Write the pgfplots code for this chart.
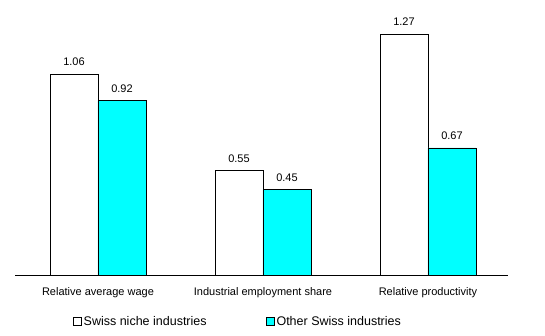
\documentclass[border=0pt]{standalone}
\usepackage{fontspec}
\setmainfont{Liberation Sans}
\usepackage{pgfplots}
\pgfplotsset{compat=1.18}
\definecolor{barcyan}{HTML}{00FFFF}
\begin{document}
\begin{tikzpicture}
\useasboundingbox (0,0) rectangle (545pt,336pt);
\begin{axis}[
  at={(15pt,61pt)}, anchor=south west,
  scale only axis,
  width=493pt, height=265.4pt,
  xmin=-0.503, xmax=2.485,
  ymin=0, ymax=1.4,
  hide y axis,
  axis x line*=bottom,
  x axis line style={-, line width=0.9pt},
  xtick={0,1,2},
  xticklabels={Relative average wage, Industrial employment share, Relative productivity},
  major tick length=0pt,
  xticklabel style={font=\fontsize{11}{13}\selectfont, yshift=-8.5pt},
  ybar, bar width=48pt,
  nodes near coords,
  nodes near coords style={font=\fontsize{11}{13}\selectfont, yshift=4.5pt, /pgf/number format/fixed, /pgf/number format/precision=2, /pgf/number format/fixed zerofill, /pgf/number format/assume math mode=true},
  legend columns=2,
  legend style={draw=none, fill=none, at={(0.452,-0.1755)}, anchor=center,
    font=\fontsize{12.5}{14}\selectfont,
    /tikz/every even column/.append style={column sep=57pt},
    nodes={inner sep=2pt}},
  legend image code/.code={\draw[#1, line width=0.9pt] (0pt,-4pt) rectangle (8pt,4pt);},
]
\addplot[draw=black, fill=white, line width=0.9pt, bar shift=-24pt] coordinates {(0,1.06) (1,0.55) (2,1.27)};
\addplot[draw=black, fill=barcyan, line width=0.9pt, bar shift=24pt] coordinates {(0,0.92) (1,0.45) (2,0.67)};
\legend{Swiss niche industries, Other Swiss industries}
\end{axis}
\end{tikzpicture}
\end{document}
